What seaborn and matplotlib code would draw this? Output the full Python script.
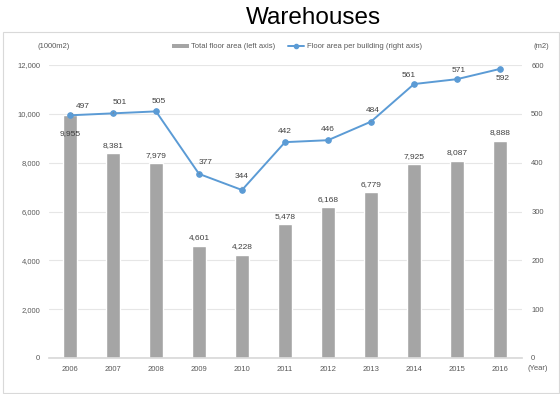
import matplotlib
matplotlib.use("Agg")
import matplotlib.pyplot as plt
from matplotlib.patches import Rectangle, Patch
from matplotlib.lines import Line2D
import numpy as np
import pandas as pd
import seaborn as sns

years = ["2006", "2007", "2008", "2009", "2010", "2011", "2012", "2013", "2014", "2015", "2016"]
total_floor_area = [9955, 8381, 7979, 4601, 4228, 5478, 6168, 6779, 7925, 8087, 8888]
floor_area_per_building = [497, 501, 505, 377, 344, 442, 446, 484, 561, 571, 592]

left_ticks = [0, 2000, 4000, 6000, 8000, 10000, 12000]
right_ticks = [0, 100, 200, 300, 400, 500, 600]

BAR_C = "#a5a5a5"
LINE_C = "#5b9bd5"
TXT_C = "#595959"
GRID_C = "#e6e6e6"

sns.set_theme(style="white")
plt.rcParams["font.family"] = ["Liberation Sans", "DejaVu Sans"]

W, H = 560, 394
fig = plt.figure(figsize=(W / 100, H / 100), dpi=100)
ax = fig.add_axes([48.5 / W, (H - 358) / H, 473 / W, 293 / H])

df = pd.DataFrame({"year": years, "total": total_floor_area, "per": floor_area_per_building})

sns.barplot(data=df, x="year", y="total", color=BAR_C, saturation=1, width=0.33, ax=ax)
ax.set_ylim(0, 12000)
ax.set_xlim(-0.5, len(years) - 0.5)
ax.set_yticks(left_ticks)
ax.set_yticklabels([f"{v:,}" for v in left_ticks])
ax.yaxis.grid(True, color=GRID_C, linewidth=0.8)
ax.set_axisbelow(True)
for s in ax.spines.values():
    s.set_visible(False)
ax.spines["bottom"].set_visible(True)
ax.spines["bottom"].set_color("#d9d9d9")
ax.tick_params(axis="both", length=0, labelsize=5.5, labelcolor=TXT_C)
ax.tick_params(axis="y", pad=6)
ax.tick_params(axis="x", pad=6)
ax.set_xlabel("")
ax.set_ylabel("")

ax2 = ax.twinx()
x_pos = np.arange(len(years))
sns.lineplot(x=x_pos, y=floor_area_per_building, ax=ax2, color=LINE_C, marker="o",
             markersize=4, markeredgecolor=LINE_C, linewidth=1.4)
ax2.set_ylim(0, 600)
ax2.set_yticks(right_ticks)
ax2.tick_params(axis="y", length=0, labelsize=5.5, labelcolor=TXT_C, pad=7)
for s in ax2.spines.values():
    s.set_visible(False)
ax2.set_ylabel("")

# bar value labels
for i, v in enumerate(total_floor_area):
    if i == 0:
        ax.text(i, v - 750, f"{v:,}", ha="center", va="center", fontsize=6, color="#404040")
    else:
        ax.text(i, v + 330, f"{v:,}", ha="center", va="center", fontsize=6, color="#404040")

# line value labels (offsets in points)
offsets = {0: (9, 6), 1: (5, 8), 2: (2, 7), 3: (5, 8), 4: (0, 10), 5: (0, 8),
           6: (0, 8), 7: (1, 8), 8: (-4, 6), 9: (1, 6), 10: (2, -7)}
leaders = {0, 1, 3, 4, 7}
for i, v in enumerate(floor_area_per_building):
    dx, dy = offsets[i]
    kw = {}
    if i in leaders:
        kw["arrowprops"] = dict(arrowstyle="-", color="#7f7f7f", lw=0.6, shrinkA=3, shrinkB=2)
    ax2.annotate(str(v), xy=(i, v), xytext=(dx, dy), textcoords="offset points",
                 ha="center", va="center", fontsize=6, color="#404040", **kw)

# units
fig.text(38 / W, 1 - 47 / H, "(1000m2)", fontsize=5.5, color=TXT_C, va="center")
fig.text(533 / W, 1 - 47 / H, "(m2)", fontsize=5.5, color=TXT_C, va="center")
fig.text(527 / W, 1 - 368 / H, "(Year)", fontsize=5.5, color=TXT_C, va="center")

# legend
handles = [Patch(facecolor=BAR_C, edgecolor="none"),
           Line2D([0], [0], color=LINE_C, marker="o", markersize=3, linewidth=1.4)]
labels = ["Total floor area (left axis)", "Floor area per building (right axis)"]
fig.legend(handles, labels, loc="center", bbox_to_anchor=(297 / W, 1 - 47 / H), ncol=2,
           frameon=False, fontsize=5.5, labelcolor=TXT_C, handlelength=2.2,
           handleheight=0.5, columnspacing=1.6, handletextpad=0.3)

# title and panel border
fig.text(313 / W, 1 - 18 / H, "Warehouses", fontsize=17.5, ha="center", va="center", color="black")
fig.patches.append(Rectangle((3 / W, 1 / H), 556 / W, 361 / H, transform=fig.transFigure,
                             fill=False, edgecolor="#d9d9d9", linewidth=0.8))

fig.savefig("out.png", dpi=100)
